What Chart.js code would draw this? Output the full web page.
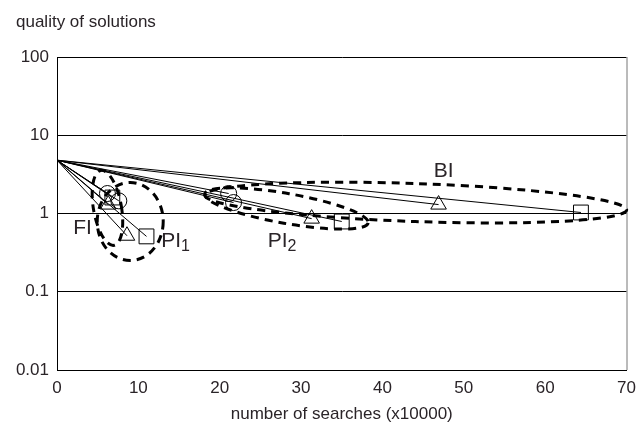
<!DOCTYPE html>
<html>
<head>
<meta charset="utf-8">
<script src="https://cdn.jsdelivr.net/npm/chart.js@4/dist/chart.umd.min.js"></script>
<style>
  html, body { margin: 0; padding: 0; background: #fff; }
  #wrap { width: 638px; height: 436px; position: relative; }
</style>
</head>
<body>
<div id="wrap"><canvas id="chart"></canvas></div>
<script>
// ── Dados ─────────────────────────────────────────────────────────────────────
const START = { x: 0, y: 4.8 };

// end points of each run
const endX     = [6.2, 7.6, 6.3, 6.8, 8.6, 11.0, 21.1, 21.7, 31.3, 35.0, 46.9, 64.4];
const endY     = [1.8, 1.45, 1.3, 1.6, 0.52, 0.51, 1.8, 1.38, 0.86, 0.79, 1.3, 1.03];
const endShape = ['circle', 'circle', 'triangle', 'rect', 'triangle', 'rect',
                  'circle', 'circle', 'triangle', 'rect', 'triangle', 'rect'];

const xTicks = [0, 10, 20, 30, 40, 50, 60, 70];
const yTicks = [0.01, 0.1, 1, 10, 100];

// dashed groups: centre in data units, radii in px, tilt in degrees
const groups = [
  { cx: 6.2,  cy: 1.18, rx: 14,  ry: 38, rot: -10 },
  { cx: 9.0,  cy: 0.79, rx: 33,  ry: 39, rot: 0 },
  { cx: 28.2, cy: 1.16, rx: 83,  ry: 15, rot: 10 },
  { cx: 44.1, cy: 1.38, rx: 211, ry: 19, rot: 2 },
];
const groupText = [
  { text: 'FI', sub: '',  x: 2.0,  y: 0.54 },
  { text: 'PI', sub: '1', x: 12.8, y: 0.37 },
  { text: 'PI', sub: '2', x: 25.9, y: 0.37 },
  { text: 'BI', sub: '',  x: 46.3, y: 2.9 },
];

const INK = '#2a2428';
const FONT = '"Liberation Sans", Arial, sans-serif';

// ── Datasets ──────────────────────────────────────────────────────────────────
const sizes = { circle: 8, triangle: 9, rect: 10.5 };
const datasets = endX.map((x, i) => ({
  data: [START, { x, y: endY[i] }],
  showLine: true,
  borderColor: '#000',
  borderWidth: 1,
  pointStyle: ['circle', endShape[i]],
  pointRadius: [0, sizes[endShape[i]]],
  pointBorderColor: '#000',
  pointBorderWidth: 1,
  pointBackgroundColor: 'rgba(0,0,0,0)',
}));

// ── Plugins ───────────────────────────────────────────────────────────────────
const extras = {
  id: 'extras',
  afterDatasetsDraw(chart) {
    const { ctx, scales: { x, y }, chartArea: a } = chart;

    // right frame
    ctx.save();
    ctx.strokeStyle = '#777';
    ctx.lineWidth = 1;
    ctx.beginPath();
    ctx.moveTo(a.right + 0.5, a.top);
    ctx.lineTo(a.right + 0.5, a.bottom);
    ctx.stroke();

    // dashed ellipses
    ctx.strokeStyle = '#000';
    ctx.lineWidth = 3;
    ctx.setLineDash([8, 6]);
    groups.forEach(g => {
      ctx.beginPath();
      ctx.ellipse(x.getPixelForValue(g.cx), y.getPixelForValue(g.cy),
                  g.rx, g.ry, g.rot * Math.PI / 180, 0, Math.PI * 2);
      ctx.stroke();
    });
    ctx.setLineDash([]);

    // group labels
    ctx.fillStyle = INK;
    ctx.textBaseline = 'alphabetic';
    groupText.forEach(t => {
      const px = x.getPixelForValue(t.x), py = y.getPixelForValue(t.y);
      ctx.font = `21px ${FONT}`;
      ctx.textAlign = 'left';
      ctx.fillText(t.text, px, py);
      if (t.sub) {
        const w = ctx.measureText(t.text).width;
        ctx.font = `16px ${FONT}`;
        ctx.fillText(t.sub, px + w, py + 4);
      }
    });

    // axis titles
    ctx.font = `17px ${FONT}`;
    ctx.textAlign = 'left';
    ctx.fillText('quality of solutions', 16, 27);
    ctx.textAlign = 'center';
    ctx.fillText('number of searches (x10000)', (a.left + a.right) / 2, 419);
    ctx.restore();
  },
};

// ── Gráfico ───────────────────────────────────────────────────────────────────
new Chart(document.getElementById('chart'), {
  type: 'scatter',
  data: { datasets },
  plugins: [extras],
  options: {
    responsive: true,
    maintainAspectRatio: false,
    animation: false,
    layout: { padding: { top: 57, right: 11, left: 0, bottom: 0 } },
    plugins: { legend: { display: false }, tooltip: { enabled: false } },
    scales: {
      x: {
        type: 'linear',
        min: 0, max: 70,
        afterBuildTicks: s => { s.ticks = xTicks.map(v => ({ value: v })); },
        afterFit: s => { s.height = 66; },
        grid: { display: false },
        border: { display: true, color: '#000', width: 1 },
        ticks: {
          color: INK, padding: 0,
          font: { family: FONT, size: 17 },
        },
      },
      y: {
        type: 'logarithmic',
        min: 0.01, max: 100,
        afterBuildTicks: s => { s.ticks = yTicks.map(v => ({ value: v })); },
        afterFit: s => { s.width = 57; },
        grid: { color: '#000', lineWidth: 1, drawTicks: false },
        border: { display: true, color: '#000', width: 1 },
        ticks: {
          color: INK, padding: 8,
          font: { family: FONT, size: 17 },
          callback: v => String(v),
        },
      },
    },
  },
});
</script>
</body>
</html>
